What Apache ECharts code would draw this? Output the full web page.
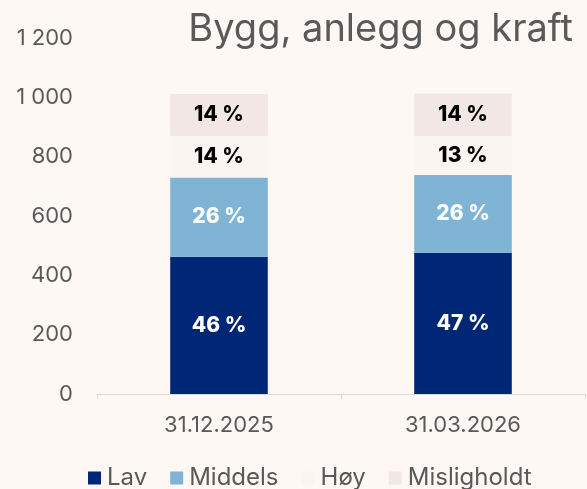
<!DOCTYPE html>
<html>
<head>
<meta charset="utf-8">
<script src="https://cdn.jsdelivr.net/npm/echarts@6/dist/echarts.min.js"></script>
<style>
html,body{margin:0;padding:0;background:#fdf8f4;}
#main{width:587px;height:489px;}
</style>
</head>
<body>
<div id="main"></div>
<script>
const categories = ['31.12.2025', '31.03.2026'];
const seriesNames = ['Lav', 'Middels', 'Høy', 'Misligholdt'];
const lav = [463, 476];
const middels = [267, 262];
const hoy = [140, 132];
const misligholdt = [141, 143];
const yTicks = [0, 200, 400, 600, 800, 1000, 1200];

const values = [lav, middels, hoy, misligholdt];
const colors = ['#002776', '#7fb4d4', '#faf5f0', '#f2e7e4'];
const labelColors = ['#ffffff', '#ffffff', '#000000', '#000000'];
const totals = categories.map((c, i) => values.reduce((s, arr) => s + arr[i], 0));
const FONT = 'Inter';

const chart = echarts.init(document.getElementById('main'), null, {renderer: 'canvas'});
chart.setOption({
  backgroundColor: '#fdf8f4',
  animation: false,
  title: {
    text: 'Bygg, anlegg og kraft',
    right: 9, top: 6,
    textStyle: {fontFamily: FONT, fontSize: 38, fontWeight: 'normal', color: '#595959'}
  },
  legend: {
    data: seriesNames,
    left: 83, top: 461,
    itemWidth: 13, itemHeight: 13, itemGap: 23,
    icon: 'rect',
    textStyle: {fontFamily: FONT, fontSize: 24, color: '#595959', padding: [0, 0, 0, 1]}
  },
  grid: {left: 97, right: 2, top: 38, bottom: 95, containLabel: false},
  xAxis: {
    type: 'category',
    data: categories,
    axisLine: {lineStyle: {color: '#d9d9d9', width: 1}},
    axisTick: {show: true, length: 5, lineStyle: {color: '#d9d9d9'}},
    axisLabel: {fontFamily: FONT, fontSize: 22, color: '#595959', margin: 20}
  },
  yAxis: {
    type: 'value',
    min: yTicks[0], max: yTicks[yTicks.length - 1], interval: 200,
    axisLine: {show: false},
    axisTick: {show: false},
    splitLine: {show: false},
    axisLabel: {
      fontFamily: FONT, fontSize: 22, color: '#595959', margin: 24,
      formatter: v => String(v).replace(/\B(?=(\d{3})+(?!\d))/g, ' ')
    }
  },
  series: seriesNames.map((name, k) => ({
    name: name,
    type: 'bar',
    stack: 'total',
    barWidth: '40%',
    data: values[k],
    itemStyle: {color: colors[k]},
    label: {
      show: true,
      position: 'inside',
      fontFamily: FONT, fontSize: 21, fontWeight: 800,
      color: labelColors[k],
      formatter: p => Math.round(p.value / totals[p.dataIndex] * 100) + ' %'
    }
  }))
});
</script>
</body>
</html>
